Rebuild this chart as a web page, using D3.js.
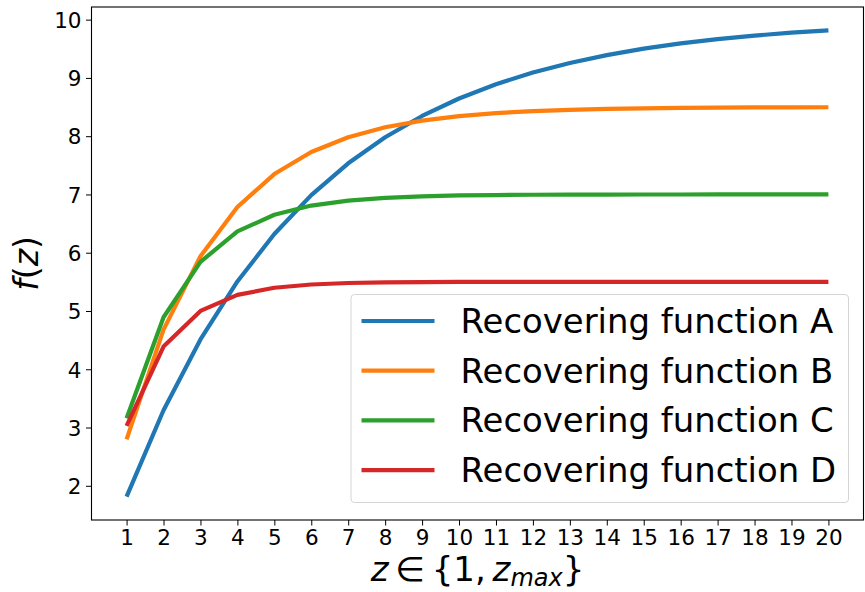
<!DOCTYPE html>
<html>
<head>
<meta charset="utf-8">
<script src="https://cdn.jsdelivr.net/npm/d3@7"></script>
<style>
  html, body { margin: 0; padding: 0; background: #fff; }
  svg { display: block; font-family: "DejaVu Sans", sans-serif; }
</style>
</head>
<body>
<svg id="chart" width="865" height="592"></svg>
<script>
// ---- data ----
const zValues = [1,2,3,4,5,6,7,8,9,10,11,12,13,14,15,16,17,18,19,20];
const seriesA = [1.813,3.297,4.512,5.507,6.321,6.988,7.534,7.981,8.347,8.647,8.892,9.093,9.257,9.392,9.502,9.592,9.666,9.727,9.776,9.817];
const seriesB = [2.797,4.681,5.940,6.784,7.350,7.729,7.983,8.154,8.268,8.344,8.396,8.430,8.453,8.469,8.479,8.486,8.491,8.494,8.496,8.497];
const seriesC = [3.158,4.892,5.843,6.365,6.651,6.809,6.895,6.942,6.968,6.983,6.990,6.995,6.997,6.998,6.999,6.999,7.000,7.000,7.000,7.000];
const seriesD = [3.029,4.390,5.001,5.276,5.399,5.455,5.480,5.491,5.496,5.498,5.499,5.500,5.500,5.500,5.500,5.500,5.500,5.500,5.500,5.500];
const seriesNames = ["Recovering function A","Recovering function B","Recovering function C","Recovering function D"];
const colors = ["#1f77b4","#ff7f0e","#2ca02c","#d62728"];
const yTicks = [2,3,4,5,6,7,8,9,10];

const series = [seriesA, seriesB, seriesC, seriesD];

// ---- layout ----
const L = 91.5, R = 863.5, T = 7, B = 520;
const svg = d3.select("#chart");

const allVals = series.flat();
const yMin = d3.min(allVals), yMax = d3.max(allVals);
const yPad = (yMax - yMin) * 0.05;
const xPad = (d3.max(zValues) - d3.min(zValues)) * 0.05;

const x = d3.scaleLinear().domain([d3.min(zValues) - xPad, d3.max(zValues) + xPad]).range([L, R]);
const y = d3.scaleLinear().domain([yMin - yPad, yMax + yPad]).range([B, T]);

// lines
const line = d3.line().x((d, i) => x(zValues[i])).y(d => y(d));
series.forEach((s, k) => {
  svg.append("path")
    .datum(s)
    .attr("d", line)
    .attr("fill", "none")
    .attr("stroke", colors[k])
    .attr("stroke-width", 4.2)
    .attr("stroke-linejoin", "round")
    .attr("stroke-linecap", "butt");
});

// axes
const xAxis = d3.axisBottom(x).tickValues(zValues).tickFormat(d3.format("d")).tickSizeInner(5.5).tickSizeOuter(0).tickPadding(4);
const yAxis = d3.axisLeft(y).tickValues(yTicks).tickFormat(d3.format("d")).tickSizeInner(5.5).tickSizeOuter(0).tickPadding(5);

const gx = svg.append("g").attr("transform", `translate(0,${B})`).call(xAxis);
const gy = svg.append("g").attr("transform", `translate(${L},0)`).call(yAxis);
[gx, gy].forEach(g => {
  g.select(".domain").remove();
  g.selectAll(".tick line").attr("stroke", "#000").attr("stroke-width", 1);
  g.selectAll(".tick text").attr("fill", "#000").style("font-size", "21.5px").style("font-family", "DejaVu Sans, sans-serif");
});
gx.selectAll(".tick text").attr("dy", "0.71em").attr("y", 10);
gy.selectAll(".tick text").attr("dy", "0.36em").attr("x", -10);

// frame
svg.append("rect")
  .attr("x", L).attr("y", T).attr("width", R - L).attr("height", B - T)
  .attr("fill", "none").attr("stroke", "#000").attr("stroke-width", 1.1);

// legend
const lgX = 351, lgY = 294.5, lgW = 497.5, lgH = 208;
svg.append("rect")
  .attr("x", lgX).attr("y", lgY).attr("width", lgW).attr("height", lgH)
  .attr("rx", 3.5).attr("ry", 3.5)
  .attr("fill", "rgba(255,255,255,0.8)")
  .attr("stroke", "#d5d5d5").attr("stroke-width", 1);
seriesNames.forEach((name, k) => {
  const cy = 321 + k * 49.7;
  svg.append("line")
    .attr("x1", 361.5).attr("x2", 434.5).attr("y1", cy).attr("y2", cy)
    .attr("stroke", colors[k]).attr("stroke-width", 4.2);
  svg.append("text")
    .attr("x", 460.5).attr("y", cy + 12)
    .style("font-size", "33.9px")
    .attr("fill", "#000")
    .text(name);
});

// x label: z ∈ {1, z_max}
const xl = svg.append("text")
  .attr("x", (L + R) / 2).attr("y", 580.5)
  .attr("text-anchor", "middle")
  .style("font-size", "34px")
  .attr("fill", "#000");
xl.append("tspan").style("font-style", "italic").text("z");
xl.append("tspan").text("\u2009∈\u2009{1,\u2009");
xl.append("tspan").style("font-style", "italic").text("z");
xl.append("tspan").style("font-style", "italic").style("font-size", "24px").attr("dy", 5).text("max");
xl.append("tspan").attr("dy", -5).text("}");

// y label: f(z)
const yl = svg.append("text")
  .attr("transform", `translate(38,${(T + B) / 2}) rotate(-90)`)
  .attr("text-anchor", "middle")
  .style("font-size", "33px")
  .attr("fill", "#000");
yl.append("tspan").style("font-style", "italic").text("f");
yl.append("tspan").text("(");
yl.append("tspan").style("font-style", "italic").text("z");
yl.append("tspan").text(")");
</script>
</body>
</html>
